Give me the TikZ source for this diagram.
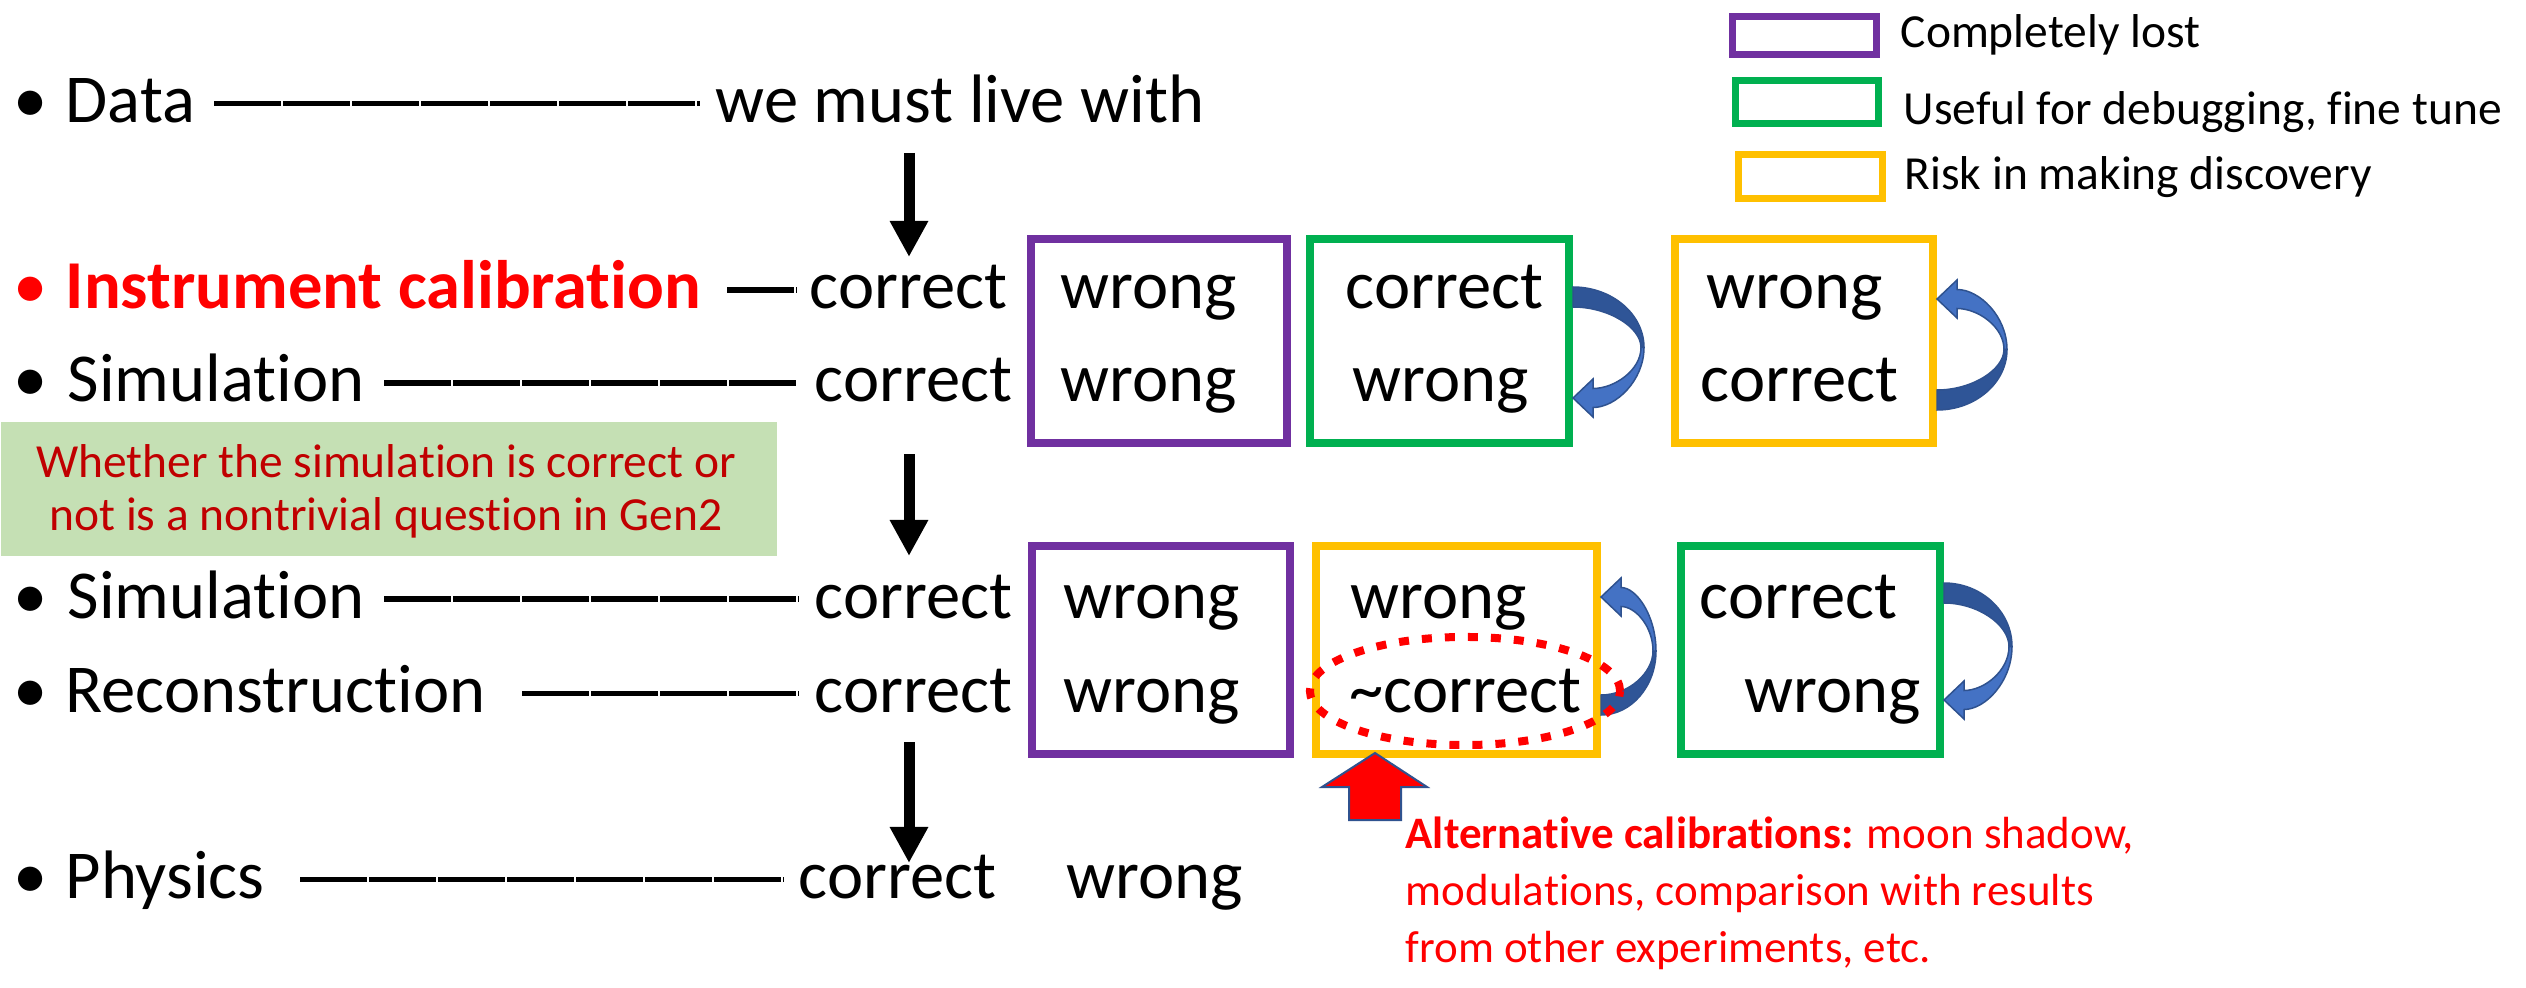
\documentclass[tikz,border=0pt]{standalone}
\usepackage{fontspec}
\setmainfont{Carlito}[Ligatures={NoCommon}]
\usetikzlibrary{arrows.meta}
\definecolor{ppl}{HTML}{7030A0}
\definecolor{grn}{HTML}{00B050}
\definecolor{ylw}{HTML}{FFC000}
\definecolor{lblue}{HTML}{4472C4}
\definecolor{dblue}{HTML}{2F5597}
\definecolor{eblue}{HTML}{2F528F}
\definecolor{boxgreen}{HTML}{C5E0B4}
\definecolor{dred}{HTML}{C00000}
\definecolor{pred}{HTML}{FF0000}
\newcommand{\bluecurve}[5]{%
  \pgfmathsetmacro\cym{(#2+#3)/2}%
  \pgfmathsetmacro\cxh{#1+20}%
  \filldraw[fill=dblue, draw=eblue, line width=0.015cm]
    ({#1},{#2-(#5)*10}) .. controls ({#1+0.55*(#4-#1)},{#2-(#5)*10}) and ({#4},{\cym-0.55*(\cym-#2+(#5)*10)}) .. ({#4},{\cym})
    -- ({#4-3},{\cym}) .. controls ({#4-3},{\cym-0.5*(\cym-#2-(#5)*10)}) and ({#1+0.5*(#4-#1)},{#2+(#5)*10}) .. ({#1},{#2+(#5)*10}) -- cycle;
  \filldraw[fill=lblue, draw=eblue, line width=0.015cm]
    ({#4},{\cym}) .. controls ({#4},{\cym+0.55*(#3+(#5)*9.5-\cym)}) and ({\cxh+0.45*(#4-\cxh)},{#3+(#5)*9.5}) .. ({\cxh},{#3+(#5)*9.5})
    -- ({\cxh},{#3+(#5)*19}) -- ({#1},{#3}) -- ({\cxh},{#3-(#5)*19}) -- ({\cxh},{#3-(#5)*9.5})
    .. controls ({\cxh+0.45*(#4-3-\cxh)},{#3-(#5)*9.5}) and ({#4-3},{\cym+0.55*(#3-(#5)*9.5-\cym)}) .. ({#4-3},{\cym}) -- cycle;
}
\tikzset{
  big/.style={anchor=base west, inner sep=0pt, font=\fontsize{19.5pt}{23pt}\selectfont},
  bul/.style={anchor=base, inner sep=0pt, font=\fontsize{19.5pt}{23pt}\selectfont},
  small/.style={anchor=base west, inner sep=0pt, font=\fontsize{13.5pt}{16pt}\selectfont},
  alt/.style={anchor=base west, inner sep=0pt, text=pred, font=\fontsize{12.8pt}{15pt}\selectfont},
  frame/.style={draw, rectangle, line width=0.08cm, inner sep=0pt},
  legbox/.style={draw, rectangle, line width=0.07cm, inner sep=0pt, minimum width=1.43cm},
  blackarrow/.style={line width=0.11cm, -{Triangle[width=0.36cm,length=0.36cm]}},
  emrule/.style={line width=0.05cm, dash pattern=on 0.665cm off 0.025cm},
}
\begin{document}
\begin{tikzpicture}[x=0.01cm,y=-0.01cm]
\useasboundingbox (0,0) rectangle (2526,988);

% legend
\node[legbox, draw=ppl, minimum height=0.38cm] (lp) at (1804.5,35.5) {};
\node[legbox, draw=grn, minimum height=0.43cm] (lg) at (1807,102) {};
\node[legbox, draw=ylw, minimum height=0.44cm] (ly) at (1810.5,176.5) {};
\node[small] (tlp) at (1900,48) {Completely lost};
\node[small] (tlg) at (1903,125) {Useful for debugging, fine tune};
\node[small] (tly) at (1904,190) {Risk in making discovery};

% row: Data
\node[bul] (b1) at (31,123) {•};
\node[big] (data) at (65,123) {Data};
\node[big] (live) at (715,123) {we must live with};
\coordinate (d1s) at (214,104); \coordinate (d1e) at (700,104);
\draw[emrule] (d1s) -- (d1e);

% row: Instrument calibration
\node[bul, text=pred] (b2) at (31,309) {•};
\node[big, text=pred, font=\fontsize{19.5pt}{23pt}\selectfont\bfseries] (instr) at (65,309) {Instrument calibration};
\node[big] (c2) at (809,309) {correct};
\coordinate (d2s) at (727,290); \coordinate (d2e) at (797,290);
\draw[emrule] (d2s) -- (d2e);

% row: Simulation
\node[bul] (b3) at (31,402) {•};
\node[big] (sim) at (67,402) {Simulation};
\node[big] (c3) at (814,402) {correct};
\coordinate (d3s) at (384,383); \coordinate (d3e) at (797,383);
\draw[emrule] (d3s) -- (d3e);

% boxes row 1
\node[frame, draw=ppl, minimum width=2.56cm, minimum height=2.04cm] (p1) at (1159,341) {};
\node[frame, draw=grn, minimum width=2.59cm, minimum height=2.04cm] (g1) at (1439.5,341) {};
\node[frame, draw=ylw, minimum width=2.58cm, minimum height=2.04cm] (y1) at (1804,341) {};
\node[big] (p1a) at (1060,309) {wrong};
\node[big] (p1b) at (1060,402) {wrong};
\node[big] (g1a) at (1345,309) {correct};
\node[big] (g1b) at (1352,402) {wrong};
\node[big] (y1a) at (1706,309) {wrong};
\node[big] (y1b) at (1700,402) {correct};

% green note box
\node[fill=boxgreen, minimum width=7.76cm, minimum height=1.34cm, inner sep=0pt, anchor=north west] (note) at (0,421) {};
\node[anchor=base, inner sep=0pt, text=dred, font=\fontsize{13.5pt}{16pt}\selectfont] (n1) at (386,477) {Whether the simulation is correct or};
\node[anchor=base, inner sep=0pt, text=dred, font=\fontsize{13.5pt}{16pt}\selectfont] (n2) at (386,531) {not is a nontrivial question in Gen2};

% row: Simulation 2
\node[bul] (b4) at (31,618) {•};
\node[big] (sim2) at (67,618) {Simulation};
\node[big] (c4) at (814,618) {correct};
\coordinate (d4s) at (384,599); \coordinate (d4e) at (799,599);
\draw[emrule] (d4s) -- (d4e);

% row: Reconstruction
\node[bul] (b5) at (31,712) {•};
\node[big] (rec) at (65,712) {Reconstruction};
\node[big] (c5) at (814,712) {correct};
\coordinate (d5s) at (522,693); \coordinate (d5e) at (799,693);
\draw[emrule] (d5s) -- (d5e);

% boxes row 2
\node[frame, draw=ppl, minimum width=2.58cm, minimum height=2.08cm] (p2) at (1161,650) {};
\node[frame, draw=ylw, minimum width=2.81cm, minimum height=2.08cm] (y2) at (1456.5,650) {};
\node[frame, draw=grn, minimum width=2.59cm, minimum height=2.08cm] (g2) at (1810.5,650) {};
\node[big] (p2a) at (1063,618) {wrong};
\node[big] (p2b) at (1063,712) {wrong};
\node[big] (y2a) at (1350,618) {wrong};
\node[big] (y2b) at (1349,712) {\symbol{"7E}correct};
\node[big] (g2a) at (1699,618) {correct};
\node[big] (g2b) at (1744,712) {wrong};

% row: Physics
\node[bul] (b6) at (31,898) {•};
\node[big] (phys) at (65,898) {Physics};
\node[big] (c6) at (798,898) {correct};
\node[big] (w6) at (1066,898) {wrong};
\coordinate (d6s) at (300,879); \coordinate (d6e) at (784,879);
\draw[emrule] (d6s) -- (d6e);

% black arrows
\coordinate (k1s) at (909,153); \coordinate (k1e) at (909,257);
\coordinate (k2s) at (909,454); \coordinate (k2e) at (909,556);
\coordinate (k3s) at (909,742); \coordinate (k3e) at (909,863);
\draw[blackarrow] (k1s) -- (k1e);
\draw[blackarrow] (k2s) -- (k2e);
\draw[blackarrow] (k3s) -- (k3e);

% blue curved arrows
\bluecurve{1573}{297}{398}{1644}{1}
\bluecurve{1937}{400}{299}{2007}{-1}
\bluecurve{1601}{705}{597}{1656}{-1}
\bluecurve{1944}{593}{700}{2012}{1}

% red dotted ellipse
\draw[pred, line width=0.08cm, dash pattern=on 0.1cm off 0.13cm] (1465,691) ellipse [x radius=1.55cm, y radius=0.54cm];

% red block arrow
\filldraw[fill=pred, draw=eblue, line width=0.02cm] (1375,753) -- (1427,787) -- (1401,787) -- (1401,820) -- (1349,820) -- (1349,787) -- (1322,787) -- cycle;

% alternative calibrations text
\node[alt] (al1) at (1405,848) {\textbf{Alternative calibrations:} moon shadow,};
\node[alt] (al2) at (1405,905) {modulations, comparison with results};
\node[alt] (al3) at (1405,962) {from other experiments, etc.};
\end{tikzpicture}
\end{document}
